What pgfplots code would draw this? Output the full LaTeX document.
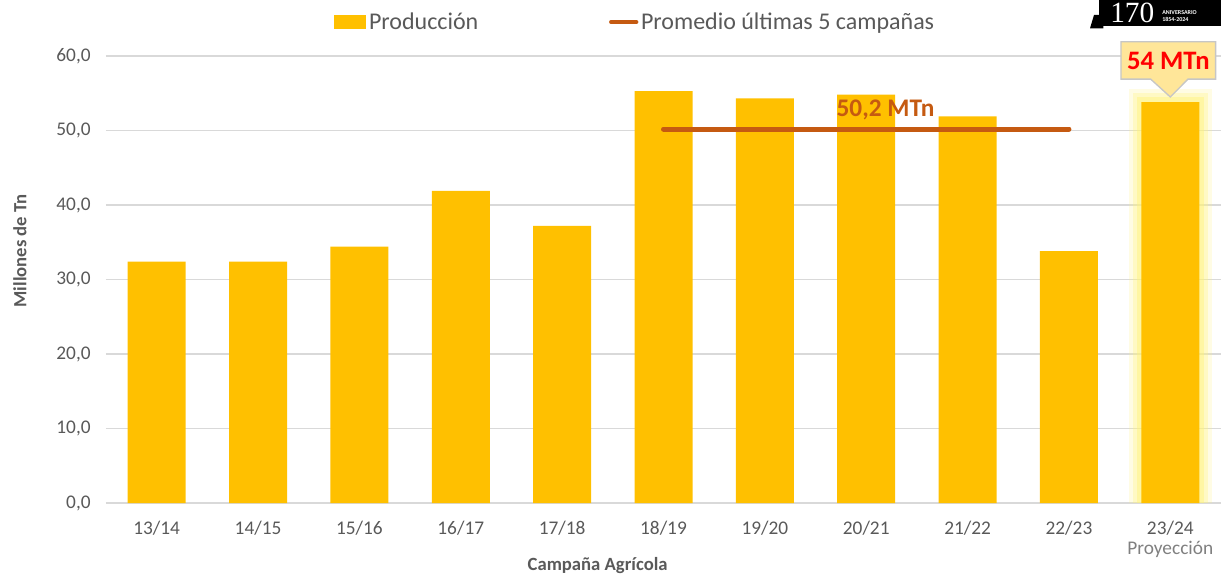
\documentclass[border=0pt]{standalone}
\usepackage{pgfplots}
\pgfplotsset{compat=1.18}
\usepackage{fontspec}
\setmainfont{Carlito}
\newfontfamily\logofont{Liberation Serif}
\usetikzlibrary{shapes.callouts}
\definecolor{barc}{HTML}{FFC000}
\definecolor{linec}{HTML}{C55A11}
\definecolor{tickc}{HTML}{595959}
\definecolor{gridc}{HTML}{D9D9D9}
\definecolor{callc}{HTML}{FFE699}
\definecolor{glowc}{HTML}{FFF27A}
\begin{document}
\begin{tikzpicture}[x=1pt,y=1pt]
\path[use as bounding box] (-79.5pt,-56.25pt) rectangle (836.25pt,377.25pt);
\begin{axis}[
  at={(0,0)}, anchor=south west,
  scale only axis, width=836.25pt, height=335.25pt,
  xmin=-0.5, xmax=10.5, ymin=0, ymax=60,
  xtick={0,...,10},
  xticklabels={13/14,14/15,15/16,16/17,17/18,18/19,19/20,20/21,21/22,22/23,{23/24\\\textcolor{gray}{Proyección}}},
  xticklabel style={align=center, font=\fontsize{14.5}{15}\selectfont, text=tickc, yshift=-10pt},
  ytick={0,10,...,60},
  yticklabel style={font=\fontsize{14.5}{16}\selectfont, text=tickc, xshift=-8pt},
  /pgf/number format/.cd, use comma, fixed, fixed zerofill, precision=1, assume math mode=true,
  /pgfplots/.cd,
  ymajorgrids, grid style={gridc, line width=0.8pt},
  axis line style={draw=none},
  major tick length=0pt,
  clip=false,
  xlabel={\textbf{Campaña Agrícola}},
  ylabel={\textbf{Millones de Tn}},
  label style={font=\fontsize{14}{16}\selectfont, text=tickc},
  xlabel style={at={(axis cs:4.35,0)}, anchor=north, yshift=-37pt},
  ylabel style={at={(rel axis cs:0,0.564)}, anchor=south, yshift=56pt},
  legend style={at={(0.201,1.076)}, anchor=west, draw=none, fill=none,
    font=\fontsize{18}{20}\selectfont, text=tickc, column sep=0pt,
    /tikz/every even column/.append style={column sep=96pt}},
  legend columns=2,
]
% glow behind projection bar
\addplot[ybar, bar width=62pt, bar shift=0pt, fill=glowc, draw=none, opacity=0.2, forget plot] coordinates {(10,55.6)};
\addplot[ybar, bar width=56pt, bar shift=0pt, fill=glowc, draw=none, opacity=0.3, forget plot] coordinates {(10,55.0)};
\addplot[ybar, bar width=50pt, bar shift=0pt, fill=glowc, draw=none, opacity=0.45, forget plot] coordinates {(10,54.5)};
\addplot[ybar, bar width=43.5pt, bar shift=0pt, fill=barc, draw=none,
  legend image code/.code={\fill[barc] (0pt,-5.5pt) rectangle (24pt,5.5pt);}]
  coordinates {(0,32.4) (1,32.4) (2,34.4) (3,41.9) (4,37.2) (5,55.3) (6,54.3) (7,54.8) (8,51.9) (9,33.8) (10,53.8)};
\addlegendentry{Producción}
\addplot[linec, line width=3.75pt, line cap=round, mark=none,
  legend image code/.code={\draw[linec, line width=3pt] (0pt,0pt) -- (19pt,0pt);}]
  coordinates {(5,50.2) (9,50.2)};
\addlegendentry{Promedio últimas 5 campañas}
\node[font=\bfseries\fontsize{19}{21}\selectfont, text=linec] at (axis cs:7.19,52.8) {50,2 MTn};
\node[rectangle callout, fill=callc, draw=gray!45, line width=1pt,
  minimum width=71pt, minimum height=28pt, inner sep=2pt,
  callout absolute pointer={(axis cs:10,54.5)}, callout pointer width=28pt,
  font=\bfseries\fontsize{20}{22}\selectfont, text=red] at (axis cs:9.98,59.4) {54 MTn};
\end{axis}
% logo approximation
\fill[black] (745pt,358pt) rectangle (836.25pt,380pt);
\fill[black] (738pt,356pt) -- (748pt,356pt) -- (748pt,366pt) -- (741pt,366pt) -- cycle;
\node[text=white, font=\logofont\fontsize{22}{22}\selectfont, anchor=south west, inner sep=0pt] at (753pt,360pt) {170};
\node[text=white, font=\fontsize{4.5}{5}\selectfont, anchor=south west, align=left, inner sep=0pt] at (792pt,361pt) {\textbf{ANIVERSARIO}\\\textbf{1854-2024}};
\end{tikzpicture}
\end{document}
